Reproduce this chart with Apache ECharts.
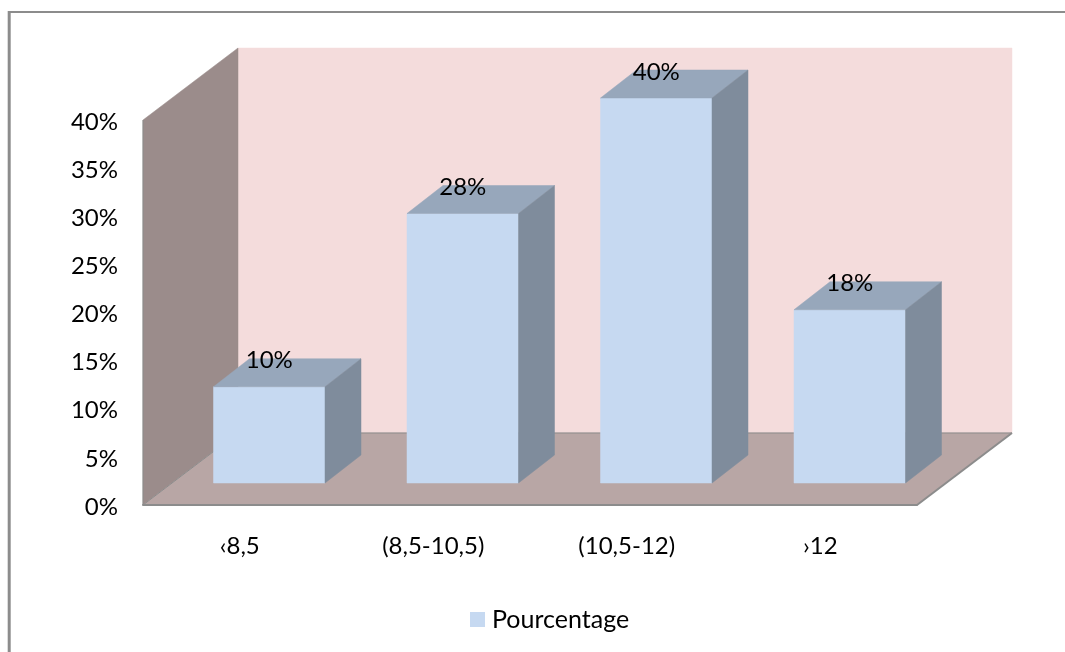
<!DOCTYPE html>
<html>
<head>
<meta charset="utf-8">
<style>html,body{margin:0;padding:0;background:#fff}#chart{width:1065px;height:652px}</style>
<script src="https://cdn.jsdelivr.net/npm/echarts@6/dist/echarts.min.js"></script>
</head>
<body>
<div id="chart"></div>
<script>
const categories = ['\u20398,5', '(8,5-10,5)', '(10,5-12)', '\u203a12'];
const pourcentage = [10, 28, 40, 18];
const valueTicks = [0, 40, 5];
const seriesName = 'Pourcentage';

// Oblique projection of the chart box
const WALL_DX = 95, WALL_DY = -72;
const BAR_INSET_DX = 29.5, BAR_INSET_DY = -22;
const BAR_DX = 36, BAR_DY = -28;
const BAR_RATIO = 111.5 / 193.5;
const FONT = 'Lato, "Open Sans", sans-serif';
const TEXT = 24;

const chart = echarts.init(document.getElementById('chart'), null, {renderer: 'canvas'});

function poly(points, fill, stroke) {
  return {type: 'polygon', shape: {points}, style: {fill, stroke: stroke || fill, lineWidth: stroke ? 1 : 0.5}};
}

// Back wall, side wall and floor, taken from the axis extents
function renderBox(params, api) {
  const band = api.size([1, 0])[0];
  const o = api.coord([0, valueTicks[0]]);
  const top = api.coord([0, valueTicks[1]])[1];
  const x0 = o[0] - band / 2, y0 = o[1];
  const x1 = x0 + band * categories.length;
  const d = (x, y) => [x + WALL_DX, y + WALL_DY];
  const bx0 = d(x0, y0), bx1 = d(x1, y0), tb0 = d(x0, top), tb1 = d(x1, top);
  return {type: 'group', silent: true, children: [
    poly([tb0, tb1, bx1, bx0], '#f4dcdc'),
    poly([[x0, top], tb0, bx0, [x0, y0]], '#9b8c8b'),
    poly([[x0, y0], bx0, bx1, [x1, y0]], '#b8a6a5'),
    {type: 'polyline', shape: {points: [bx0, bx1]}, style: {stroke: '#8c8c8c', lineWidth: 1, fill: null}},
    {type: 'polyline', shape: {points: [[x1, y0], bx1]}, style: {stroke: '#8c8c8c', lineWidth: 2, fill: null}},
    {type: 'polyline', shape: {points: [[x0, y0], bx0]}, style: {stroke: '#8c8c8c', lineWidth: 1, fill: null}},
    {type: 'polyline', shape: {points: [[x0, top], [x0, y0]]}, style: {stroke: '#8c8c8c', lineWidth: 1, fill: null}}
  ]};
}

// One prism per category with its value written above the front face
function renderBar(params, api) {
  const i = api.value(0), v = api.value(1);
  const band = api.size([1, 0])[0];
  const w = band * BAR_RATIO;
  const base = api.coord([i, 0]), head = api.coord([i, v]);
  const l = base[0] - w / 2 + BAR_INSET_DX, r = l + w;
  const b = base[1] + BAR_INSET_DY, t = head[1] + BAR_INSET_DY;
  return {type: 'group', children: [
    poly([[l, t], [r, t], [r, b], [l, b]], '#c6d9f1'),
    poly([[l, t], [l + BAR_DX, t + BAR_DY], [r + BAR_DX, t + BAR_DY], [r, t]], '#97a7bb'),
    poly([[r, t], [r + BAR_DX, t + BAR_DY], [r + BAR_DX, b + BAR_DY], [r, b]], '#7f8c9c'),
    {type: 'text', z2: 10, style: {text: v + '%', x: (l + r) / 2, y: t - 26, align: 'center', verticalAlign: 'middle',
      fill: '#000', font: TEXT + 'px ' + FONT}}
  ]};
}

chart.setOption({
  animation: false,
  backgroundColor: '#fff',
  textStyle: {fontFamily: FONT},
  grid: {left: 143, right: 148, top: 120, height: 385, containLabel: false},
  xAxis: {
    type: 'category', data: categories,
    axisTick: {show: false},
    axisLine: {show: true, lineStyle: {color: '#8c8c8c', width: 2}},
    axisLabel: {color: '#000', fontSize: TEXT, fontFamily: FONT, margin: 29, interval: 0},
    splitLine: {show: false}, z: 5
  },
  yAxis: {
    type: 'value', min: valueTicks[0], max: valueTicks[1], interval: valueTicks[2],
    axisLine: {show: false}, axisTick: {show: false}, splitLine: {show: false},
    axisLabel: {color: '#000', fontSize: TEXT, fontFamily: FONT, formatter: '{value}%', margin: 25,
      verticalAlign: 'top', lineHeight: 4}
  },
  legend: {
    data: [{name: seriesName, icon: 'rect'}],
    left: 470, top: 607, padding: 0, itemWidth: 15, itemHeight: 15,
    formatter: name => '{t|' + name + '}',
    textStyle: {rich: {t: {color: '#000', fontSize: 25, fontFamily: FONT, padding: [0, 0, 0, 2]}}},
    selectedMode: false
  },
  graphic: [
    {type: 'line', silent: true, shape: {x1: 9.2, y1: 11, x2: 9.2, y2: 652}, style: {stroke: '#8c8c8c', lineWidth: 3}},
    {type: 'line', silent: true, shape: {x1: 8, y1: 12, x2: 1065, y2: 12}, style: {stroke: '#8c8c8c', lineWidth: 2}}
  ],
  series: [
    {type: 'custom', name: 'box', silent: true, renderItem: renderBox, data: [[0, 0]], encode: {x: 0, y: 1}, z: 1},
    {type: 'custom', name: seriesName, renderItem: renderBar, itemStyle: {color: '#c6d9f1'},
      data: pourcentage.map((v, i) => [i, v]), encode: {x: 0, y: 1}, z: 2}
  ]
});
</script>
</body>
</html>
